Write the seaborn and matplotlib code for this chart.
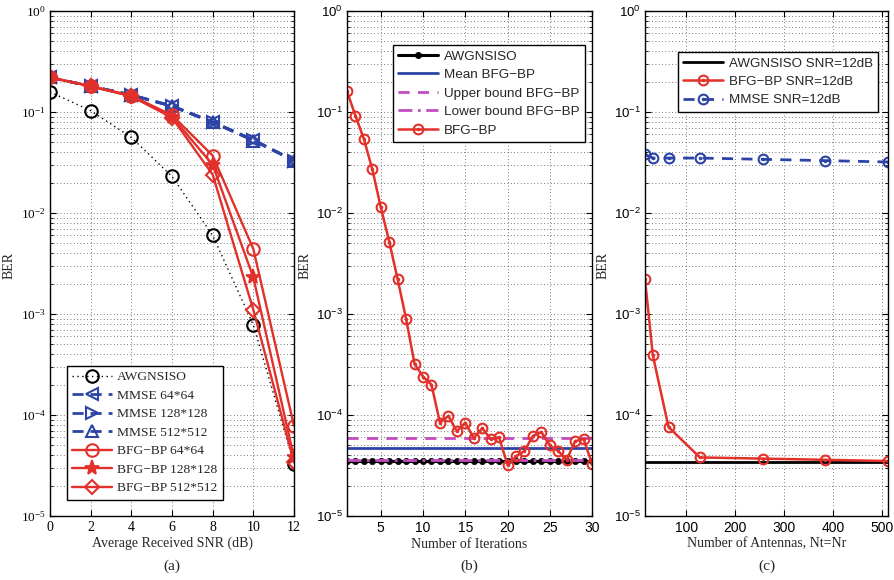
import numpy as np
import matplotlib
matplotlib.use('Agg')
import matplotlib.pyplot as plt
from matplotlib.path import Path
from matplotlib.ticker import LogLocator, NullFormatter
import seaborn as sns

# ---- data (a): BER vs SNR ----
snr_db = [0, 2, 4, 6, 8, 10, 12]
awgn_snr = [0.158, 0.103, 0.056, 0.023, 0.006, 7.8e-4, 3.3e-5]
mmse_64 = [0.22, 0.18, 0.148, 0.115, 0.080, 0.053, 0.033]
mmse_128 = [0.22, 0.18, 0.147, 0.114, 0.079, 0.053, 0.033]
mmse_512 = [0.22, 0.18, 0.147, 0.114, 0.079, 0.052, 0.033]
bfg_64 = [0.22, 0.18, 0.145, 0.093, 0.037, 0.0044, 7.8e-5]
bfg_128 = [0.22, 0.18, 0.144, 0.090, 0.030, 0.0023, 3.8e-5]
bfg_512 = [0.22, 0.18, 0.143, 0.088, 0.024, 0.0011, 3.4e-5]

# ---- data (b): BER vs iterations ----
iterations = list(range(1, 31))
bfg_iter = [0.16, 0.092, 0.054, 0.027, 0.0114, 0.0052, 0.0022, 8.9e-4, 3.2e-4, 2.4e-4,
            2.0e-4, 8.4e-5, 9.8e-5, 6.9e-5, 8.4e-5, 5.9e-5, 7.4e-5, 5.8e-5, 6.0e-5, 3.2e-5,
            3.9e-5, 4.4e-5, 6.2e-5, 6.8e-5, 5.0e-5, 4.4e-5, 3.6e-5, 5.5e-5, 5.8e-5, 3.3e-5]
awgn_iter = [3.5e-5] * 30
mean_bfg = 4.7e-5
upper_bfg = 5.9e-5
lower_bfg = 3.6e-5

# ---- data (c): BER vs number of antennas ----
antennas = [16, 32, 64, 128, 256, 384, 512]
awgn_ant = [3.4e-5] * 7
bfg_ant = [0.0022, 3.9e-4, 7.6e-5, 3.8e-5, 3.7e-5, 3.6e-5, 3.5e-5]
mmse_ant = [0.038, 0.035, 0.035, 0.035, 0.034, 0.033, 0.032]

RED = '#e2302a'
BLUE = '#2d44a6'
MAG = '#c24cc0'

sns.set_style('ticks', {'xtick.direction': 'in', 'ytick.direction': 'in'})
plt.rcParams['font.family'] = ['Liberation Sans', 'DejaVu Sans']
plt.rcParams['mathtext.fontset'] = 'custom'
plt.rcParams['mathtext.rm'] = 'Liberation Sans'

# circle with a dot in the middle (matlab-like marker)
ring_dot = Path.make_compound_path(Path.unit_circle(), Path.circle((0, 0), 0.15))

fig = plt.figure(figsize=(8.94, 5.8), dpi=100)
W, H = 894, 580
boxes = [(50, 294), (347, 592), (645, 888)]
axes = [fig.add_axes([l / W, 1 - 516 / H, (r - l) / W, 505 / H]) for l, r in boxes]
ylabel_x = [16, 312, 610]   # right edge of the rotated "BER" label, px


def style_axis(ax, lab_x, serif_ticks=False):
    ax.set_yscale('log')
    ax.set_ylim(1e-5, 1)
    ax.yaxis.set_major_locator(LogLocator(base=10, numticks=10))
    ax.yaxis.set_minor_locator(LogLocator(base=10, subs=np.arange(2, 10), numticks=10))
    ax.yaxis.set_minor_formatter(NullFormatter())
    ax.tick_params(which='both', direction='in', top=True, right=True, colors='k',
                   labelsize=10)
    ax.tick_params(axis='y', labelsize=9.5, pad=3)
    ax.tick_params(which='major', length=4)
    ax.tick_params(which='minor', length=2)
    ax.grid(True, which='major', axis='both', ls=(0, (1, 3)), color='k', lw=0.6, alpha=0.7)
    ax.grid(True, which='minor', axis='y', ls=(0, (1, 3)), color='k', lw=0.6, alpha=0.7)
    for s in ax.spines.values():
        s.set_visible(True)
        s.set_color('k')
        s.set_linewidth(1.0)
    ax.set_ylabel('BER', family='Liberation Serif', fontsize=10)
    l, r = ax.get_position().x0 * W, ax.get_position().x1 * W
    ax.yaxis.set_label_coords((lab_x - l) / (r - l), 0.497)
    if serif_ticks:
        for lab in ax.get_xticklabels() + ax.get_yticklabels():
            lab.set_fontfamily('Liberation Serif')


def add_legend(ax, anchor, loc, family, size, hl):
    leg = ax.legend(loc=loc, bbox_to_anchor=anchor, fancybox=False, edgecolor='k',
                    framealpha=1, handlelength=hl, borderaxespad=0,
                    prop={'family': family, 'size': size}, labelspacing=0.45,
                    handletextpad=0.4, borderpad=0.4)
    leg.get_frame().set_linewidth(1.0)


# ---------- panel (a) ----------
ax = axes[0]
common = dict(ax=ax, ms=9, mew=1.5, mfc='none')
sns.lineplot(x=snr_db, y=awgn_snr, color='k', ls=(0, (1, 2.5)), lw=1.0, marker='o',
             mec='k', label='AWGNSISO', **common)
sns.lineplot(x=snr_db, y=mmse_64, color=BLUE, ls=(0, (4, 2.5)), lw=2.0, marker='<',
             mec=BLUE, label='MMSE 64*64', **common)
sns.lineplot(x=snr_db, y=mmse_128, color=BLUE, ls=(0, (4, 2.5)), lw=2.0, marker='>',
             mec=BLUE, label='MMSE 128*128', **common)
sns.lineplot(x=snr_db, y=mmse_512, color=BLUE, ls=(0, (4, 2.5)), lw=2.0, marker='^',
             mec=BLUE, label='MMSE 512*512', **common)
sns.lineplot(x=snr_db, y=bfg_64, color=RED, lw=1.7, marker='o', mec=RED,
             label='BFG\u2212BP 64*64', **common)
sns.lineplot(x=snr_db, y=bfg_128, color=RED, lw=1.7, marker='*', mec=RED, ax=ax,
             ms=11, mew=1.2, mfc=RED, label='BFG\u2212BP 128*128')
sns.lineplot(x=snr_db, y=bfg_512, color=RED, lw=1.7, marker='D', mec=RED, ax=ax,
             ms=7, mew=1.5, mfc='none', label='BFG\u2212BP 512*512')
ax.set_xlim(0, 12)
ax.set_xticks(range(0, 13, 2))
style_axis(ax, ylabel_x[0], serif_ticks=True)
ax.set_xlabel('Average Received SNR (dB)', family='Liberation Serif', fontsize=10, labelpad=2)
add_legend(ax, (0.07, 0.032), 'lower left', 'Liberation Serif', 9.7, 2.9)

# ---------- panel (b) ----------
ax = axes[1]
sns.lineplot(x=iterations, y=awgn_iter, color='k', lw=2.2, marker='o', ms=4.5, mec='k',
             mfc='k', mew=0.5, ax=ax, label='AWGNSISO')
ax.axhline(mean_bfg, color=BLUE, lw=2.0, label='Mean BFG\u2212BP')
ax.axhline(upper_bfg, color=MAG, lw=2.0, ls=(0, (4, 3)), label='Upper bound BFG\u2212BP')
ax.axhline(lower_bfg, color=MAG, lw=2.0, ls=(0, (5, 2, 1, 2)), label='Lower bound BFG\u2212BP')
sns.lineplot(x=iterations, y=bfg_iter, color=RED, lw=1.8, marker=ring_dot, ms=7, mec=RED,
             mfc='none', mew=1.5, ax=ax, label='BFG\u2212BP')
ax.set_xlim(1, 30)
ax.set_xticks([5, 10, 15, 20, 25, 30])
style_axis(ax, ylabel_x[1])
ax.set_xlabel('Number of Iterations', family='Liberation Serif', fontsize=10, labelpad=2)
add_legend(ax, (0.971, 0.933), 'upper right', 'Liberation Sans', 9.7, 3.0)

# ---------- panel (c) ----------
ax = axes[2]
sns.lineplot(x=antennas, y=awgn_ant, color='k', lw=2.0, ax=ax, label='AWGNSISO SNR=12dB')
sns.lineplot(x=antennas, y=bfg_ant, color=RED, lw=1.8, marker=ring_dot, ms=7, mec=RED,
             mfc='none', mew=1.5, ax=ax, label='BFG\u2212BP SNR=12dB')
sns.lineplot(x=antennas, y=mmse_ant, color=BLUE, lw=2.0, ls=(0, (4, 3)), marker=ring_dot,
             ms=7, mec=BLUE, mfc='none', mew=1.5, ax=ax, label='MMSE SNR=12dB')
ax.set_xlim(16, 512)
ax.set_xticks([100, 200, 300, 400, 500])
style_axis(ax, ylabel_x[2])
ax.set_xlabel('Number of Antennas, Nt=Nr', family='Liberation Serif', fontsize=10, labelpad=2)
add_legend(ax, (0.959, 0.919), 'upper right', 'Liberation Sans', 9.6, 3.0)

# panel captions
for ax, tag in zip(axes, ['(a)', '(b)', '(c)']):
    pos = ax.get_position()
    fig.text(pos.x0 + pos.width / 2, 1 - 566 / H, tag, ha='center', va='center',
             family='Liberation Serif', fontsize=11)

fig.savefig('out.png', dpi=100)
